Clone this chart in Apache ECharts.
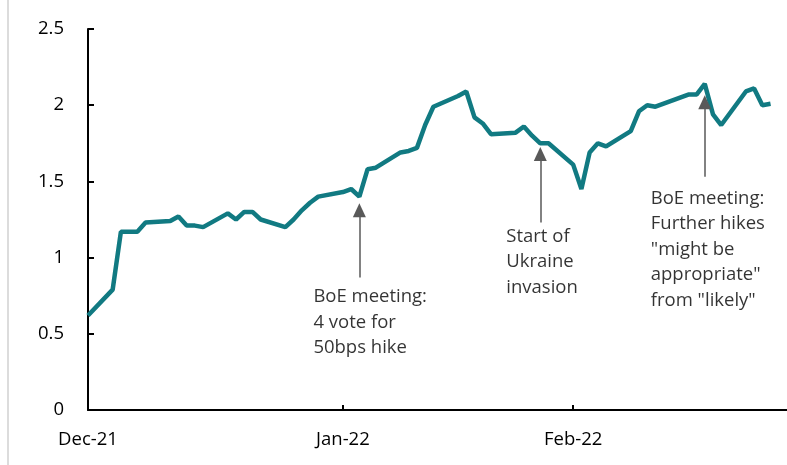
<!DOCTYPE html>
<html>
<head>
<meta charset="utf-8">
<script src="https://cdn.jsdelivr.net/npm/echarts@6/dist/echarts.min.js"></script>
<style>
  html, body { margin: 0; padding: 0; background: #fff; }
  #chart { width: 787px; height: 465px; }
</style>
</head>
<body>
<div id="chart"></div>
<script>
const dates = [
    '2021-12-31',
    '2022-01-03', '2022-01-04', '2022-01-05', '2022-01-06', '2022-01-07',
    '2022-01-10', '2022-01-11', '2022-01-12', '2022-01-13', '2022-01-14',
    '2022-01-17', '2022-01-18', '2022-01-19', '2022-01-20', '2022-01-21',
    '2022-01-24', '2022-01-25', '2022-01-26', '2022-01-27', '2022-01-28',
    '2022-01-31', '2022-02-01', '2022-02-02', '2022-02-03', '2022-02-04',
    '2022-02-07', '2022-02-08', '2022-02-09', '2022-02-10', '2022-02-11',
    '2022-02-14', '2022-02-15', '2022-02-16', '2022-02-17', '2022-02-18',
    '2022-02-21', '2022-02-22', '2022-02-23', '2022-02-24', '2022-02-25',
    '2022-02-28', '2022-03-01', '2022-03-02', '2022-03-03', '2022-03-04',
    '2022-03-07', '2022-03-08', '2022-03-09', '2022-03-10', '2022-03-11',
    '2022-03-14', '2022-03-15', '2022-03-16', '2022-03-17', '2022-03-18',
    '2022-03-21', '2022-03-22', '2022-03-23', '2022-03-24'
];
const values = [
    0.62,
    0.79, 1.17, 1.17, 1.17, 1.23,
    1.24, 1.27, 1.21, 1.21, 1.20,
    1.29, 1.25, 1.30, 1.30, 1.25,
    1.20, 1.25, 1.31, 1.36, 1.40,
    1.43, 1.45, 1.40, 1.58, 1.59,
    1.69, 1.70, 1.72, 1.87, 1.99,
    2.06, 2.09, 1.92, 1.88, 1.81,
    1.82, 1.86, 1.80, 1.75, 1.75,
    1.61, 1.45, 1.69, 1.75, 1.73,
    1.83, 1.96, 2.00, 1.99, 2.01,
    2.07, 2.07, 2.14, 1.94, 1.87,
    2.09, 2.11, 2.00, 2.01
];

// x axis ticks (month labels)
const tickDates = ['2021-12-31', '2022-01-31', '2022-02-28'];
const tickLabels = ['Dec-21', 'Jan-22', 'Feb-22'];
const axisStart = '2021-12-31';
const axisEnd = '2022-03-26';

// annotations: arrow date, arrow foot, arrow head, text
const noteDates = ['2022-02-02', '2022-02-24', '2022-03-16'];
const noteBase = [0.87, 1.23, 1.53];
const noteHead = [1.31, 1.68, 2.02];
const noteTexts = [
    'BoE meeting:\n4 vote for\n50bps hike',
    'Start of\nUkraine\ninvasion',
    'BoE meeting:\nFurther hikes\n"might be\nappropriate"\nfrom "likely"'
];
const noteOffsets = [[-46, 7], [-34, 1], [-54, 9]];

// calendar days since axis start
const dayOf = (s) => {
    const p = s.split('-').map(Number);
    const q = axisStart.split('-').map(Number);
    return Math.round((Date.UTC(p[0], p[1] - 1, p[2]) - Date.UTC(q[0], q[1] - 1, q[2])) / 86400000);
};

const FONT = 'Open Sans';
const tickDays = tickDates.map(dayOf);

const chart = echarts.init(document.getElementById('chart'));

const option = {
    animation: false,
    backgroundColor: '#fff',
    textStyle: { fontFamily: FONT },
    grid: { left: 88, right: 0, top: 29, bottom: 55 },
    xAxis: {
        type: 'value',
        min: 0,
        max: dayOf(axisEnd),
        axisLine: { show: true, lineStyle: { color: '#000', width: 2 } },
        axisTick: {
            show: true,
            inside: true,
            length: 5,
            customValues: tickDays,
            lineStyle: { color: '#000', width: 2 }
        },
        axisLabel: {
            customValues: tickDays,
            color: '#000',
            fontSize: 18.5,
            fontFamily: FONT,
            margin: 20,
            formatter: function (val) {
                const i = tickDays.indexOf(Math.round(val));
                return i >= 0 ? tickLabels[i] : '';
            }
        },
        splitLine: { show: false }
    },
    yAxis: {
        type: 'value',
        min: 0,
        max: 2.5,
        interval: 0.5,
        axisLine: { show: true, lineStyle: { color: '#000', width: 2 } },
        axisTick: { show: true, inside: true, length: 6, lineStyle: { color: '#000', width: 2 } },
        axisLabel: { color: '#000', fontSize: 18.5, fontFamily: FONT, margin: 24 },
        splitLine: { show: false }
    },
    graphic: [{
        type: 'line',
        shape: { x1: 8, y1: 0, x2: 8, y2: 465 },
        style: { stroke: '#dcdcdc', lineWidth: 2 }
    }],
    series: [
        {
            type: 'line',
            data: dates.map((d, i) => [dayOf(d), values[i]]),
            showSymbol: false,
            lineStyle: { color: '#117A82', width: 4.5 },
            itemStyle: { color: '#117A82' },
            z: 3,
            markLine: {
                silent: true,
                symbol: ['none', 'triangle'],
                symbolSize: [13, 14],
                label: { show: false },
                lineStyle: { color: '#595959', width: 1.5, type: 'solid' },
                itemStyle: { color: '#404040' },
                data: noteDates.map((d, i) => [
                    { coord: [dayOf(d), noteBase[i]] },
                    { coord: [dayOf(d), noteHead[i]] }
                ])
            }
        },
        {
            type: 'scatter',
            symbolSize: 0,
            silent: true,
            data: noteDates.map((d, i) => ({
                value: [dayOf(d), noteBase[i]],
                label: {
                    show: true,
                    position: noteOffsets[i],
                    formatter: noteTexts[i],
                    align: 'left',
                    verticalAlign: 'top',
                    color: '#000',
                    fontSize: 18.5,
                    fontFamily: FONT,
                    lineHeight: 25.5
                }
            }))
        }
    ]
};

chart.setOption(option);
</script>
</body>
</html>
